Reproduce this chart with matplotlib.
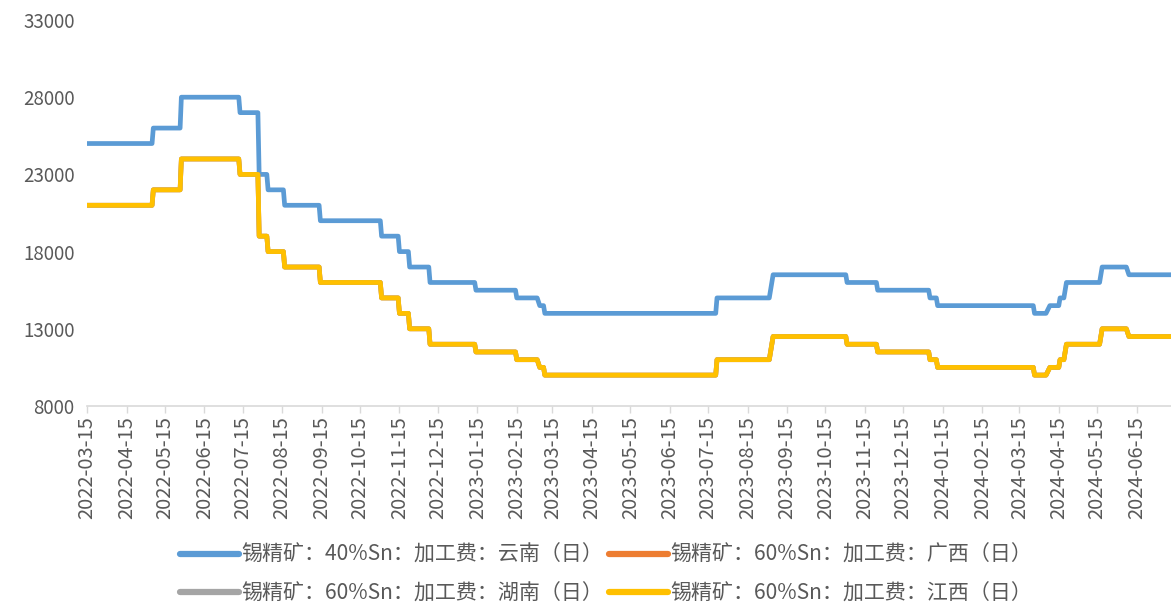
import pandas as pd
import numpy as np
import matplotlib
matplotlib.use('Agg')
import matplotlib.pyplot as plt
import matplotlib.dates as mdates

plt.rcParams['font.family'] = ['Noto Sans CJK SC', 'DejaVu Sans']

# =========================
# DATA (step-change dates and levels, yuan/ton)
# =========================
change_dates = ['2022-03-15', '2022-05-06', '2022-05-28', '2022-07-13', '2022-07-28',
                '2022-08-04', '2022-08-17', '2022-09-14', '2022-11-01', '2022-11-15',
                '2022-11-23', '2022-12-09', '2023-01-14', '2023-02-15', '2023-03-05',
                '2023-03-09', '2023-07-22', '2023-09-04', '2023-11-01', '2023-11-25',
                '2024-01-05', '2024-01-11', '2024-03-27', '2024-04-08', '2024-04-16',
                '2024-04-21', '2024-05-19', '2024-06-09']
end_date = '2024-07-12'

yunnan_40 = [25000, 26000, 28000, 27000, 23000, 22000, 21000, 20000, 19000, 18000,
             17000, 16000, 15500, 15000, 14500, 14000, 15000, 16500, 16000, 15500,
             15000, 14500, 14000, 14500, 15000, 16000, 17000, 16500]
guangxi_60 = [21000, 22000, 24000, 23000, 19000, 18000, 17000, 16000, 15000, 14000,
              13000, 12000, 11500, 11000, 10500, 10000, 11000, 12500, 12000, 11500,
              11000, 10500, 10000, 10500, 11000, 12000, 13000, 12500]
hunan_60 = [21000, 22000, 24000, 23000, 19000, 18000, 17000, 16000, 15000, 14000,
            13000, 12000, 11500, 11000, 10500, 10000, 11000, 12500, 12000, 11500,
            11000, 10500, 10000, 10500, 11000, 12000, 13000, 12500]
jiangxi_60 = [21000, 22000, 24000, 23000, 19000, 18000, 17000, 16000, 15000, 14000,
              13000, 12000, 11500, 11000, 10500, 10000, 11000, 12500, 12000, 11500,
              11000, 10500, 10000, 10500, 11000, 12000, 13000, 12500]

labels = ['锡精矿：40%Sn：加工费：云南（日）', '锡精矿：60%Sn：加工费：广西（日）',
          '锡精矿：60%Sn：加工费：湖南（日）', '锡精矿：60%Sn：加工费：江西（日）']
colors = ['#5B9BD5', '#ED7D31', '#A5A5A5', '#FFC000']
yticks = [8000, 13000, 18000, 23000, 28000, 33000]

# business-day series, forward filled between changes
idx = pd.bdate_range(change_dates[0], end_date)


def daily(values):
    s = pd.Series(values, index=pd.to_datetime(change_dates))
    return s.reindex(idx.union(s.index)).ffill()


series = [daily(v) for v in (yunnan_40, guangxi_60, hunan_60, jiangxi_60)]

# =========================
# PLOT
# =========================
fig = plt.figure(figsize=(11.71, 6.09), dpi=100)
ax = fig.add_axes([87 / 1171, 203 / 609, 1 - 87 / 1171, 386 / 609])

lines = []
for s, c, lab in zip(series, colors, labels):
    ln, = ax.plot(s.index, s.values, color=c, lw=3.4, label=lab,
                  solid_joinstyle='round', solid_capstyle='round')
    lines.append(ln)

ax.set_ylim(8000, 33000)
ax.set_yticks(yticks)
ax.set_xlim(pd.Timestamp(change_dates[0]), pd.Timestamp(end_date))
ax.xaxis.set_major_locator(mdates.MonthLocator(bymonthday=15))
ax.xaxis.set_major_formatter(mdates.DateFormatter('%Y-%m-%d'))
plt.setp(ax.get_xticklabels(), rotation=90)

for side in ['top', 'right', 'left']:
    ax.spines[side].set_visible(False)
ax.spines['bottom'].set_color('#D9D9D9')
ax.spines['bottom'].set_linewidth(1.2)

ax.tick_params(axis='y', length=0, pad=9, labelsize=13.5, labelcolor='#595959')
ax.tick_params(axis='x', length=5, width=1, color='#D9D9D9', pad=2,
               labelsize=14.5, labelcolor='#595959')

order = [0, 2, 1, 3]
leg = fig.legend([lines[i] for i in order], [labels[i] for i in order],
                 loc='center', bbox_to_anchor=(606 / 1171, 0.057), ncol=2,
                 frameon=False, fontsize=15.1, handlelength=2.85,
                 handletextpad=0.1, columnspacing=0.25, labelspacing=0.8,
                 labelcolor='#595959', borderpad=0.2)
for h in leg.get_lines():
    h.set_linewidth(4.5)

fig.savefig('out.png', dpi=100)
